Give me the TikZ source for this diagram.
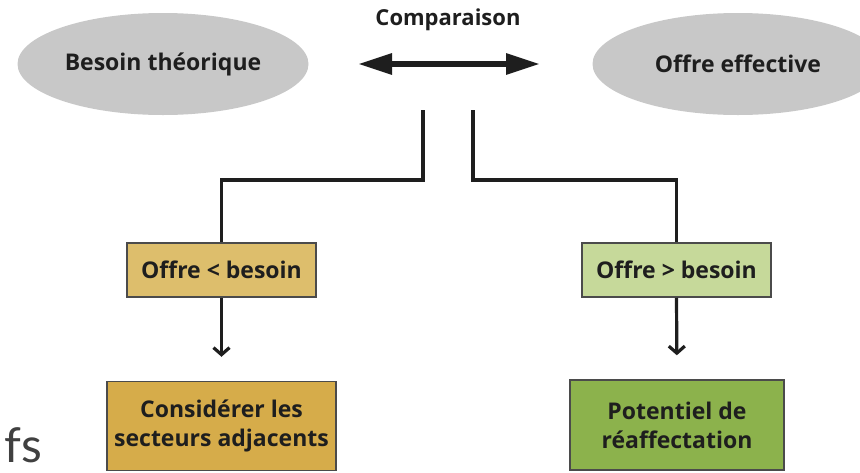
\documentclass[tikz,border=0pt]{standalone}
\usepackage{fontspec}
\setmainfont{Open Sans}
\newfontfamily\fsfont{Lato}
\usetikzlibrary{arrows.meta,shapes.geometric}
\definecolor{gris}{HTML}{C8C8C8}
\definecolor{tanclair}{HTML}{DDBE6C}
\definecolor{tanfonce}{HTML}{D6AC4A}
\definecolor{vertclair}{HTML}{C6D99A}
\definecolor{vertfonce}{HTML}{8CB24C}
\definecolor{texte}{HTML}{1E1E1E}
\begin{document}
\begin{tikzpicture}[x=1pt,y=-1pt]
\tikzstyle{bulle}=[ellipse, fill=gris, minimum width=291pt, minimum height=102pt, inner sep=0, text=texte, font=\bfseries\fontsize{23}{27}\selectfont]
\tikzstyle{boite}=[draw=texte!80, line width=1.5pt, inner sep=0, align=center, text=texte, font=\bfseries\fontsize{23}{29}\selectfont]
\tikzstyle{lien}=[line width=3.2pt, texte]
\useasboundingbox (0,0) rectangle (860,472);
% ellipses
\node[bulle](besoin) at (163,64){Besoin théorique};
\node[bulle](offre) at (738,64){Offre effective};
\node[text=texte, font=\bfseries\fontsize{22}{26}\selectfont](cmp) at (448,20){Comparaison};
\coordinate (cmpg) at (358,64);
\coordinate (cmpd) at (540,64);
\draw[line width=6pt, texte, {Triangle[length=34pt,width=20pt]}-{Triangle[length=34pt,width=20pt]}](cmpg)--(cmpd);
% boites
\node[boite, fill=tanclair, minimum width=189pt, minimum height=54pt](inf) at (221.5,270){Offre < besoin};
\node[boite, fill=vertclair, minimum width=189pt, minimum height=54pt](sup) at (676.5,270){Offre > besoin};
\node[boite, fill=tanfonce, minimum width=229pt, minimum height=89pt](adj) at (221.5,426){Considérer les\\secteurs adjacents};
\node[boite, fill=vertfonce, minimum width=214pt, minimum height=90pt](reaf) at (677,425){Potentiel de\\réaffectation};
% liens
\coordinate (dg) at (423,110);
\coordinate (dd) at (473,110);
\draw[lien](dg)--++(0,70)-|(inf.north);
\draw[lien](dd)--++(0,70)-|(sup.north);
\foreach \a/\b in{inf/adj, sup/reaf}
\draw[lien, -{Straight Barb[length=7pt,width=16pt]}, shorten >=24pt](\a.south)--(\b.north);
\node[anchor=base west, inner sep=0, text=texte!85, font=\fsfont\fontsize{48}{48}\selectfont](fs) at (4,462){fs};
\end{tikzpicture}
\end{document}
